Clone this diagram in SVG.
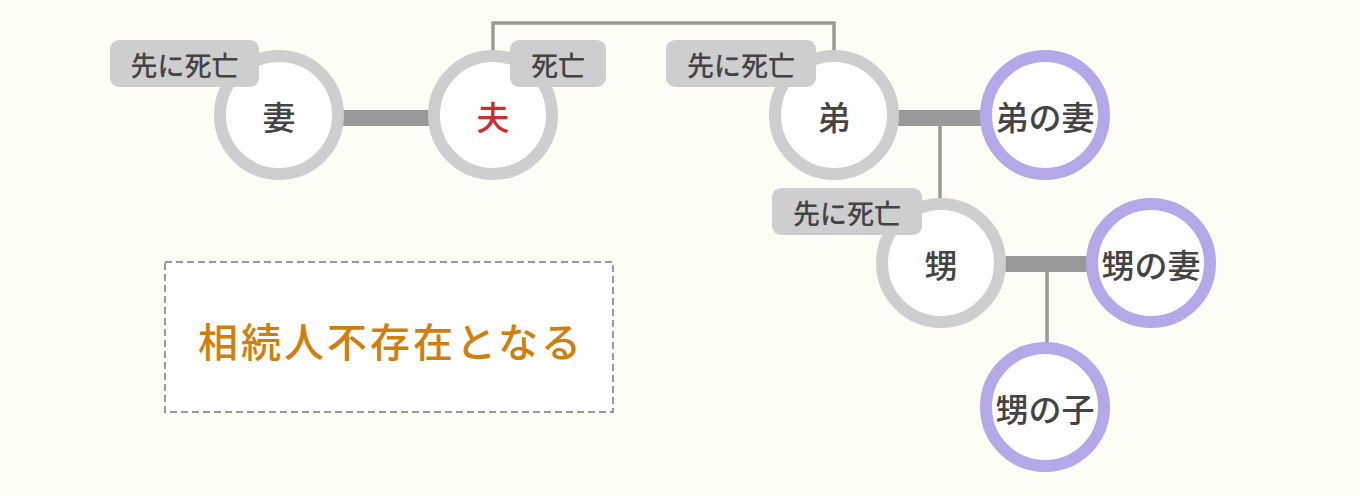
<svg xmlns="http://www.w3.org/2000/svg" width="1360" height="496" viewBox="0 0 1360 496">
<style>
.bg{fill:#fdfdf5}
.n{fill:#ffffff;stroke-width:12}
.dead{stroke:#cfcecf}
.alive{stroke:#b4a8e8}
.t{font-family:"Noto Sans CJK JP","Noto Sans",sans-serif;font-size:33px;font-weight:500;fill:#444444;text-anchor:middle;dominant-baseline:central}
.tag rect{fill:#cfcecf}
.tag text{font-family:"Noto Sans CJK JP","Noto Sans",sans-serif;font-size:27px;font-weight:500;fill:#444444;text-anchor:middle;dominant-baseline:central}
.sp{stroke:#999999;stroke-width:16;fill:none}
.ch{stroke:#999999;stroke-width:3.5;fill:none}
</style>
<rect class="bg" x="0" y="0" width="1360" height="496"/>
<g id="connectors">
<path class="ch" d="M493 52 V23 H834 V52"/>
<line class="sp" x1="340" y1="118" x2="432" y2="118"/>
<line class="sp" x1="895" y1="118" x2="985" y2="118"/>
<line class="ch" x1="940" y1="118" x2="940" y2="200"/>
<line class="sp" x1="1002" y1="264" x2="1090" y2="264"/>
<line class="ch" x1="1047" y1="264" x2="1047" y2="344"/>
</g>
<g id="tsuma">
<circle class="n dead" cx="279" cy="115" r="59"/>
<text class="t" x="279" y="116">妻</text>
<g class="tag"><rect x="110" y="40" width="149" height="47" rx="9"/><text x="184.5" y="64">先に死亡</text></g>
</g>
<g id="otto">
<circle class="n dead" cx="493" cy="115" r="59"/>
<text class="t" x="493" y="116" style="fill:#c9302c">夫</text>
<g class="tag"><rect x="510" y="40" width="96" height="47" rx="9"/><text x="558" y="64">死亡</text></g>
</g>
<g id="otouto">
<circle class="n dead" cx="834" cy="115" r="59"/>
<text class="t" x="834" y="116">弟</text>
<g class="tag"><rect x="666" y="40" width="150" height="47" rx="9"/><text x="741" y="64">先に死亡</text></g>
</g>
<g id="otouto-tsuma">
<circle class="n alive" cx="1045" cy="115" r="59"/>
<text class="t" x="1045" y="116">弟の妻</text>
</g>
<g id="oi">
<circle class="n dead" cx="941" cy="263" r="59"/>
<text class="t" x="941" y="264">甥</text>
<g class="tag"><rect x="772" y="188" width="150" height="47" rx="9"/><text x="847" y="212">先に死亡</text></g>
</g>
<g id="oi-tsuma">
<circle class="n alive" cx="1151" cy="263" r="59"/>
<text class="t" x="1151" y="264">甥の妻</text>
</g>
<g id="oi-ko">
<circle class="n alive" cx="1045" cy="407" r="59"/>
<text class="t" x="1045" y="408">甥の子</text>
</g>
<g id="note">
<rect x="165" y="262" width="448" height="150" fill="#ffffff" stroke="#999999" stroke-width="2" stroke-dasharray="7,4"/>
<text x="391" y="340" style="font-family:'Noto Sans CJK JP','Noto Sans',sans-serif;font-size:40px;font-weight:500;fill:#d17f0b;text-anchor:middle;dominant-baseline:central;letter-spacing:3px">相続人不存在となる</text>
</g>
</svg>
